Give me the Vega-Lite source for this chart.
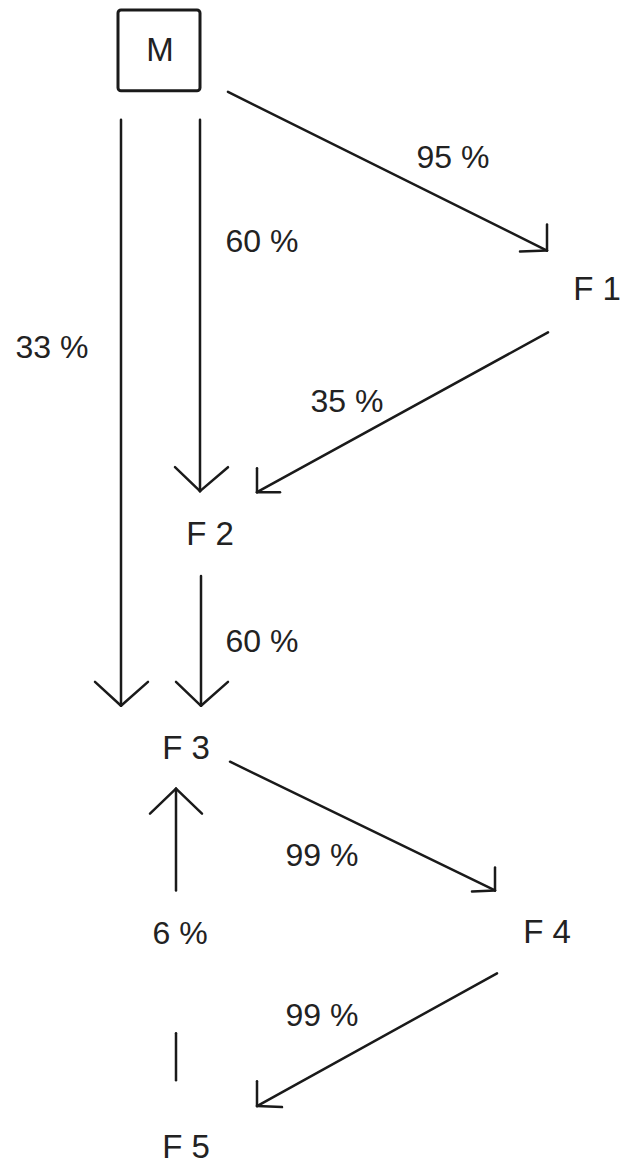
{
  "$schema": "https://vega.github.io/schema/vega-lite/v6.json",
  "width": 622,
  "height": 1165,
  "autosize": {"type": "fit", "contains": "padding"},
  "padding": 0,
  "background": "white",
  "config": {"view": {"stroke": null}},
  "datasets": {
    "segments": [
      {"id": "M-F1", "x": 228, "y": 92, "x2": 547, "y2": 251},
      {"id": "M-F1 head a", "x": 547, "y": 251, "x2": 547, "y2": 225},
      {"id": "M-F1 head b", "x": 547, "y": 251, "x2": 520, "y2": 252},
      {"id": "M-F2", "x": 200, "y": 120, "x2": 200, "y2": 492},
      {"id": "M-F2 head a", "x": 200, "y": 492, "x2": 175, "y2": 468},
      {"id": "M-F2 head b", "x": 200, "y": 492, "x2": 228, "y2": 468},
      {"id": "M-F3", "x": 121, "y": 120, "x2": 121, "y2": 707},
      {"id": "M-F3 head a", "x": 121, "y": 707, "x2": 95, "y2": 683},
      {"id": "M-F3 head b", "x": 121, "y": 707, "x2": 148, "y2": 683},
      {"id": "F1-F2", "x": 548, "y": 333, "x2": 257, "y2": 493},
      {"id": "F1-F2 head a", "x": 257, "y": 493, "x2": 257, "y2": 469},
      {"id": "F1-F2 head b", "x": 257, "y": 493, "x2": 280, "y2": 493},
      {"id": "F2-F3", "x": 201, "y": 577, "x2": 201, "y2": 707},
      {"id": "F2-F3 head a", "x": 201, "y": 707, "x2": 176, "y2": 683},
      {"id": "F2-F3 head b", "x": 201, "y": 707, "x2": 228, "y2": 683},
      {"id": "F3-F4", "x": 230, "y": 763, "x2": 495, "y2": 892},
      {"id": "F3-F4 head a", "x": 495, "y": 892, "x2": 495, "y2": 869},
      {"id": "F3-F4 head b", "x": 495, "y": 892, "x2": 472, "y2": 893},
      {"id": "F5-F3 upper", "x": 176, "y": 790, "x2": 176, "y2": 892},
      {"id": "F5-F3 head a", "x": 176, "y": 790, "x2": 150, "y2": 815},
      {"id": "F5-F3 head b", "x": 176, "y": 790, "x2": 202, "y2": 815},
      {"id": "F5-F3 lower", "x": 176, "y": 1035, "x2": 176, "y2": 1082},
      {"id": "F4-F5", "x": 497, "y": 975, "x2": 257, "y2": 1108},
      {"id": "F4-F5 head a", "x": 257, "y": 1108, "x2": 257, "y2": 1083},
      {"id": "F4-F5 head b", "x": 257, "y": 1108, "x2": 282, "y2": 1109}
    ],
    "labels": [
      {"text": "95 %", "x": 453, "y": 158},
      {"text": "60 %", "x": 262, "y": 242},
      {"text": "33 %", "x": 52, "y": 349},
      {"text": "35 %", "x": 347, "y": 403},
      {"text": "60 %", "x": 262, "y": 643},
      {"text": "99 %", "x": 322, "y": 857},
      {"text": "6 %", "x": 180, "y": 936},
      {"text": "99 %", "x": 322, "y": 1018}
    ],
    "nodes": [
      {"text": "M", "x": 160, "y": 51},
      {"text": "F 1", "x": 597, "y": 290},
      {"text": "F 2", "x": 210, "y": 536},
      {"text": "F 3", "x": 186, "y": 750},
      {"text": "F 4", "x": 547, "y": 935},
      {"text": "F 5", "x": 186, "y": 1150}
    ],
    "box": [
      {"x": 118, "y": 10, "x2": 200, "y2": 91}
    ]
  },
  "layer": [
    {
      "data": {"name": "box"},
      "mark": {"type": "rect", "fill": null, "stroke": "#1a1a1a", "strokeWidth": 3, "cornerRadius": 3},
      "encoding": {
        "x": {"field": "x", "type": "quantitative", "scale": {"domain": [0, 622]}, "axis": null},
        "x2": {"field": "x2"},
        "y": {"field": "y", "type": "quantitative", "scale": {"domain": [0, 1165], "reverse": true}, "axis": null},
        "y2": {"field": "y2"}
      }
    },
    {
      "data": {"name": "segments"},
      "mark": {"type": "rule", "stroke": "#1a1a1a", "strokeWidth": 2.5, "strokeCap": "round"},
      "encoding": {
        "x": {"field": "x", "type": "quantitative", "scale": {"domain": [0, 622]}, "axis": null},
        "x2": {"field": "x2"},
        "y": {"field": "y", "type": "quantitative", "scale": {"domain": [0, 1165], "reverse": true}, "axis": null},
        "y2": {"field": "y2"}
      }
    },
    {
      "data": {"name": "labels"},
      "mark": {"type": "text", "font": "Liberation Sans", "fontSize": 32, "color": "#222222", "align": "center", "baseline": "middle"},
      "encoding": {
        "x": {"field": "x", "type": "quantitative", "scale": {"domain": [0, 622]}, "axis": null},
        "y": {"field": "y", "type": "quantitative", "scale": {"domain": [0, 1165], "reverse": true}, "axis": null},
        "text": {"field": "text"}
      }
    },
    {
      "data": {"name": "nodes"},
      "mark": {"type": "text", "font": "Liberation Sans", "fontSize": 33, "color": "#222222", "align": "center", "baseline": "middle"},
      "encoding": {
        "x": {"field": "x", "type": "quantitative", "scale": {"domain": [0, 622]}, "axis": null},
        "y": {"field": "y", "type": "quantitative", "scale": {"domain": [0, 1165], "reverse": true}, "axis": null},
        "text": {"field": "text"}
      }
    }
  ]
}
